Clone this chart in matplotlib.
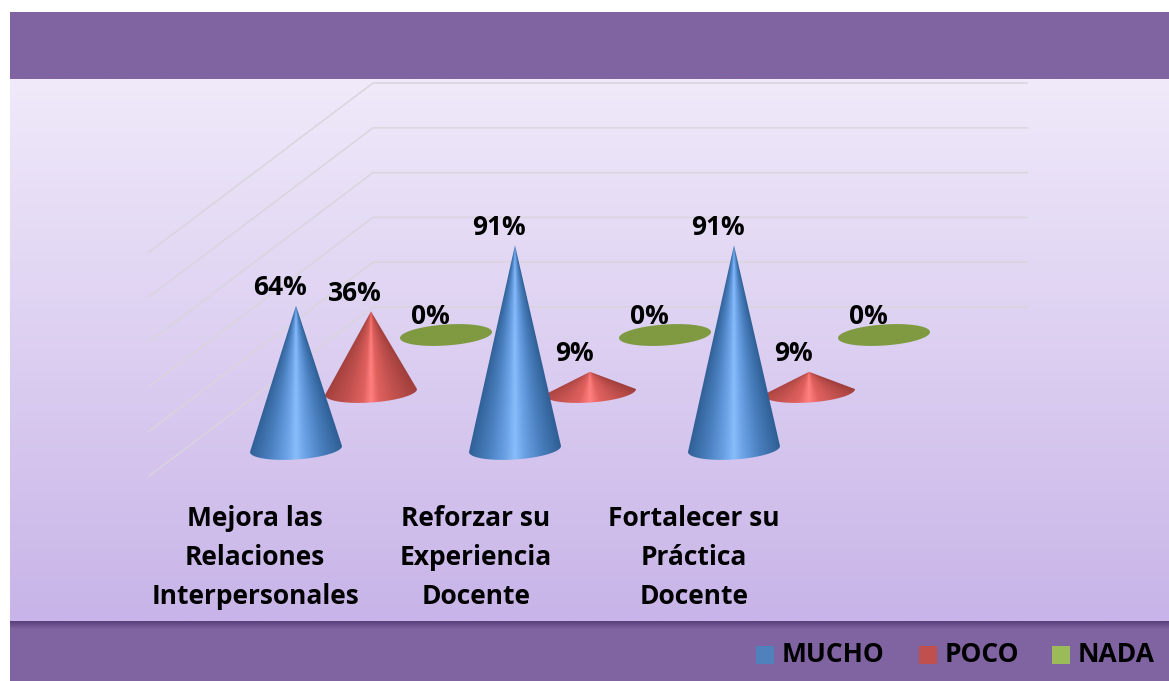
import numpy as np
import matplotlib
matplotlib.use('Agg')
import matplotlib.pyplot as plt
from matplotlib.colors import LinearSegmentedColormap
from matplotlib.patches import PathPatch, Rectangle
from matplotlib.path import Path

plt.rcParams['font.family'] = ['Open Sans', 'DejaVu Sans']

categories = ['Mejora las\nRelaciones\nInterpersonales',
              'Reforzar su\nExperiencia\nDocente',
              'Fortalecer su\nPráctica\nDocente']
series_names = ['MUCHO', 'POCO', 'NADA']
mucho = [64, 91, 91]
poco = [36, 9, 9]
nada = [0, 0, 0]
grid_values = [0, 20, 40, 60, 80, 100]

# layout in pixels of the picture
W, H = 1169, 681
PURPLE = '#8063a1'
group_x = 296
group_step = 219
depth_x = 75
depth_y = -57
base_y = 449
px_per_pct = 2.24
half_w = 46
half_h = 10.5
tilt = 0.065
FS = 19

cone_colors = {
    'MUCHO': [(0, '#88bdfb'), (0.2, '#6ba2e6'), (0.55, '#4a80bf'), (1, '#2f5f95')],
    'POCO': [(0, '#ff8080'), (0.15, '#e0615e'), (0.5, '#c0504d'), (1, '#a03f3c')],
    'NADA': [(0, '#7f9a41'), (1, '#7f9a41')],
}
legend_colors = ['#4f81bd', '#c0504d', '#9bbb59']
legend_box_x = [756, 919, 1052]

fig = plt.figure(figsize=(W / 100, H / 100), dpi=100)
ax = fig.add_axes([0, 0, 1, 1])
ax.axis('off')


def vgrad(y0, y1, c0, c1, zorder):
    cmap = LinearSegmentedColormap.from_list('g', [c0, c1])
    ax.imshow(np.linspace(0, 1, 256)[:, None], extent=(10, W, y1, y0), cmap=cmap,
              aspect='auto', zorder=zorder, interpolation='bilinear')


def draw_cone(cx, cy, value, colors, zorder):
    height = value * px_per_pct
    t = np.linspace(0, np.pi, 60)
    ex = cx - half_w * np.cos(t)
    ey = cy + half_h * np.sin(t) - tilt * (ex - cx)
    if height > half_h:
        xs = np.r_[cx, ex, cx]
        ys = np.r_[cy - height, ey, cy - height]
    else:
        t = np.linspace(0, 2 * np.pi, 120)
        xs = cx - half_w * np.cos(t)
        ys = cy + half_h * np.sin(t) - tilt * (xs - cx)
    path = Path(np.c_[xs, ys])

    left, right = cx - half_w - 1, cx + half_w + 1
    top, bottom = cy - max(height, half_h) - 1, cy + half_h + 5
    gx, gy = np.meshgrid(np.linspace(left, right, 200), np.linspace(top, bottom, 300))
    spread = np.maximum((gy - (cy - height)) / max(height, 1), 0.02) * half_w
    shade = np.clip(np.abs(gx - cx) / spread, 0, 1)
    cmap = LinearSegmentedColormap.from_list('c', colors)
    im = ax.imshow(shade, extent=(left, right, bottom, top), cmap=cmap, vmin=0, vmax=1,
                   aspect='auto', zorder=zorder, interpolation='bilinear')
    patch = PathPatch(path, facecolor='none', edgecolor='none', zorder=zorder)
    ax.add_patch(patch)
    im.set_clip_path(patch)


# background bands
ax.add_patch(Rectangle((10, 12), W - 10, 67, facecolor=PURPLE, edgecolor='none', zorder=1))
vgrad(79, 621, '#f0eafa', '#c8b4e8', 1)
ax.add_patch(Rectangle((10, 621), W - 10, 60, facecolor=PURPLE, edgecolor='none', zorder=1))
vgrad(621, 629, '#57407a', PURPLE, 2)

# gridlines on wall and side
for g in grid_values:
    y = 307 - g * px_per_pct
    ax.plot([149, 373, 1027], [y + 224 * 0.755, y, y], color='#d9d4dd', lw=1.1, zorder=3)

# cones, back row first
all_series = [mucho, poco, nada]
for s in [2, 1, 0]:
    name = series_names[s]
    for i, val in enumerate(all_series[s]):
        cx = group_x + i * group_step + s * depth_x
        cy = base_y + s * depth_y
        draw_cone(cx, cy, val, cone_colors[name], 4 + (2 - s) + i * 0.1)

# value labels
for s in range(3):
    for i, val in enumerate(all_series[s]):
        cx = group_x + i * group_step + s * depth_x
        cy = base_y + s * depth_y
        ax.text(cx - 16, cy - val * px_per_pct - 18, f'{val}%', ha='center', va='center',
                fontsize=FS, fontweight='bold', color='black', zorder=10)

# category labels
for x, label in zip([255, 476, 694], categories):
    for j, line in enumerate(label.split('\n')):
        ax.text(x, 518 + j * 39.5, line, ha='center', va='center',
                fontsize=FS, fontweight='bold', color='black', zorder=10)

# legend
for x, name, col in zip(legend_box_x, series_names, legend_colors):
    ax.add_patch(Rectangle((x, 646), 18, 18, facecolor=col, edgecolor='none', zorder=10))
    ax.text(x + 26, 654, name, ha='left', va='center', fontsize=FS, fontweight='bold',
            color='black', zorder=10)

ax.set_xlim(0, W)
ax.set_ylim(H, 0)
fig.savefig('out.png', dpi=100, facecolor='white')
